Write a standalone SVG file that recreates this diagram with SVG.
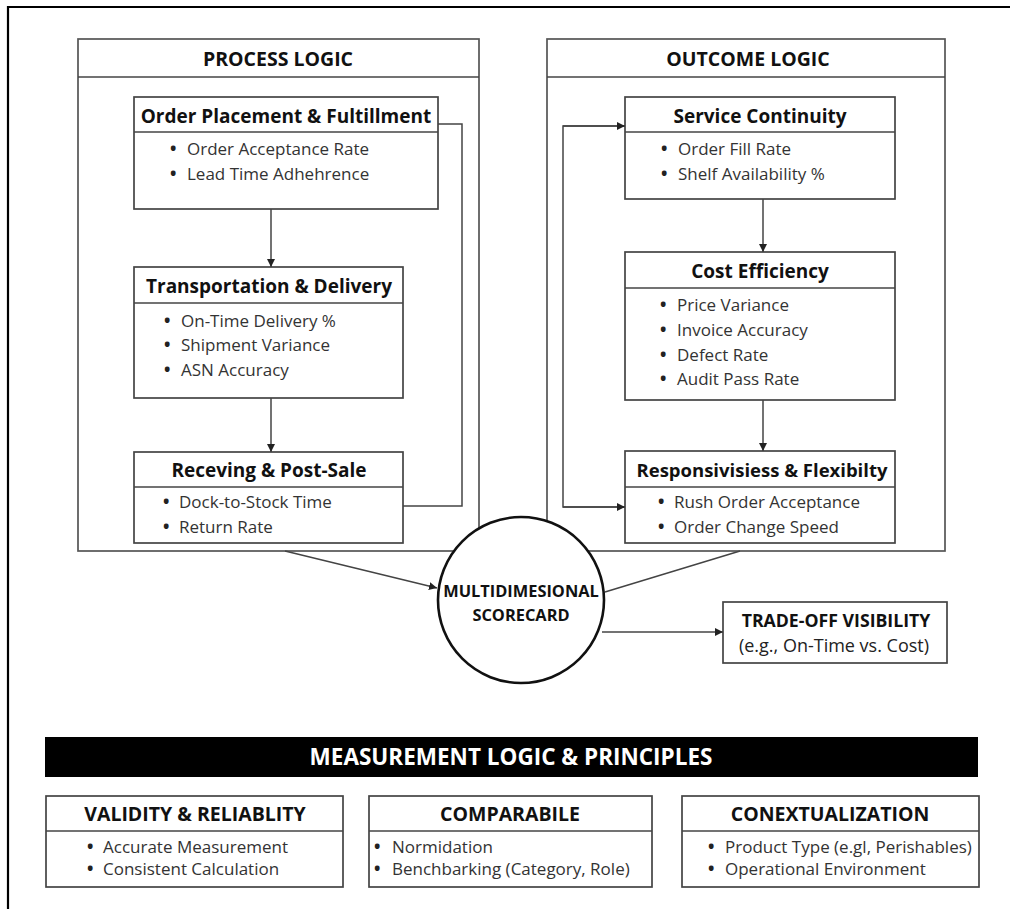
<svg xmlns="http://www.w3.org/2000/svg" width="1010" height="909" viewBox="0 0 1010 909">
  <style>
    .panel { fill: #fff; stroke: #555; stroke-width: 1.7; }
    .box { fill: #fff; stroke: #444; stroke-width: 1.7; }
    .div { stroke: #444; stroke-width: 1.7; }
    .hdr { font-family: "Open Sans", "Liberation Sans", sans-serif; font-weight: 700; font-size: 19.5px; fill: #111; text-anchor: middle; }
    .ttl { font-family: "Open Sans", "Liberation Sans", sans-serif; font-weight: 700; font-size: 19px; fill: #111; text-anchor: middle; }
    .sub { font-family: "Open Sans", "Liberation Sans", sans-serif; font-weight: 700; font-size: 19.5px; fill: #111; text-anchor: middle; }
    .itm { font-family: "Open Sans", "Liberation Sans", sans-serif; font-size: 17px; fill: #333; }
    .itm tspan:first-child { font-weight: 700; fill: #222; }
    .cap { font-family: "Open Sans", "Liberation Sans", sans-serif; font-weight: 700; font-size: 16.4px; fill: #111; text-anchor: middle; }
    .conn { fill: none; stroke: #444; stroke-width: 1.5; }
  </style>
  <defs>
    <marker id="arr" viewBox="0 0 10 10" refX="10" refY="5" markerWidth="8" markerHeight="8" markerUnits="userSpaceOnUse" orient="auto">
      <path d="M0,0 L10,5 L0,10 z" fill="#222"/>
    </marker>
  </defs>

  <rect width="1010" height="909" fill="#fff"/>
  <!-- outer frame (left and top edges) -->
  <path d="M8,909 V7 H1010" fill="none" stroke="#000" stroke-width="2.2"/>

  <!-- PROCESS LOGIC panel -->
  <g id="process-logic">
    <rect class="panel" x="78" y="39" width="401" height="512"/>
    <line class="div" x1="78" y1="77" x2="479" y2="77"/>
    <text class="hdr" x="278" y="66">PROCESS LOGIC</text>
  </g>

  <!-- OUTCOME LOGIC panel -->
  <g id="outcome-logic">
    <rect class="panel" x="547" y="39" width="398" height="512"/>
    <line class="div" x1="547" y1="77" x2="945" y2="77"/>
    <text class="hdr" x="748" y="66">OUTCOME LOGIC</text>
  </g>

  <g id="order-placement">
    <rect class="box" x="134" y="97" width="304" height="112"/>
    <line class="div" x1="134" y1="132" x2="438" y2="132"/>
    <text class="ttl" x="286" y="123">Order Placement &amp; Fultillment</text>
    <text class="itm" y="155"><tspan x="170">•</tspan><tspan x="187">Order Acceptance Rate</tspan></text>
    <text class="itm" y="180"><tspan x="170">•</tspan><tspan x="187">Lead Time Adhehrence</tspan></text>
  </g>

  <g id="transportation">
    <rect class="box" x="134" y="267" width="269" height="131"/>
    <line class="div" x1="134" y1="303" x2="403" y2="303"/>
    <text class="ttl" x="269" y="293">Transportation &amp; Delivery</text>
    <text class="itm" y="327"><tspan x="164">•</tspan><tspan x="181">On-Time Delivery %</tspan></text>
    <text class="itm" y="351"><tspan x="164">•</tspan><tspan x="181">Shipment Variance</tspan></text>
    <text class="itm" y="376"><tspan x="164">•</tspan><tspan x="181">ASN Accuracy</tspan></text>
  </g>

  <g id="receiving">
    <rect class="box" x="134" y="452" width="269" height="91"/>
    <line class="div" x1="134" y1="487" x2="403" y2="487"/>
    <text class="ttl" x="269" y="477">Receving &amp; Post-Sale</text>
    <text class="itm" y="508"><tspan x="163">•</tspan><tspan x="179">Dock-to-Stock Time</tspan></text>
    <text class="itm" y="533"><tspan x="163">•</tspan><tspan x="179">Return Rate</tspan></text>
  </g>

  <g id="service-continuity">
    <rect class="box" x="625" y="97" width="270" height="102"/>
    <line class="div" x1="625" y1="132" x2="895" y2="132"/>
    <text class="ttl" x="760" y="123">Service Continuity</text>
    <text class="itm" y="155"><tspan x="661">•</tspan><tspan x="678">Order Fill Rate</tspan></text>
    <text class="itm" y="180"><tspan x="661">•</tspan><tspan x="678">Shelf Availability %</tspan></text>
  </g>

  <g id="cost-efficiency">
    <rect class="box" x="625" y="252" width="270" height="148"/>
    <line class="div" x1="625" y1="288" x2="895" y2="288"/>
    <text class="ttl" x="760" y="278">Cost Efficiency</text>
    <text class="itm" y="311"><tspan x="660">•</tspan><tspan x="677">Price Variance</tspan></text>
    <text class="itm" y="336"><tspan x="660">•</tspan><tspan x="677">Invoice Accuracy</tspan></text>
    <text class="itm" y="361"><tspan x="660">•</tspan><tspan x="677">Defect Rate</tspan></text>
    <text class="itm" y="385"><tspan x="660">•</tspan><tspan x="677">Audit Pass Rate</tspan></text>
  </g>

  <g id="responsiveness">
    <rect class="box" x="625" y="451" width="270" height="92"/>
    <line class="div" x1="625" y1="487" x2="895" y2="487"/>
    <text class="ttl" x="762" y="477" style="font-size:18.5px">Responsivisiess &amp; Flexibilty</text>
    <text class="itm" y="508"><tspan x="658">•</tspan><tspan x="674">Rush Order Acceptance</tspan></text>
    <text class="itm" y="533"><tspan x="658">•</tspan><tspan x="674">Order Change Speed</tspan></text>
  </g>

  <g id="scorecard">
    <circle cx="521" cy="600" r="83" fill="#fff" stroke="#111" stroke-width="2.6"/>
    <text class="cap" x="521" y="597">MULTIDIMESIONAL</text>
    <text class="cap" x="521" y="621">SCORECARD</text>
  </g>

  <g id="trade-off">
    <rect class="box" x="723" y="602" width="224" height="61"/>
    <text class="cap" x="836" y="627" style="font-size:17.7px">TRADE-OFF VISIBILITY</text>
    <text class="itm" x="834" y="652" text-anchor="middle" style="fill:#222;font-size:18px">(e.g., On-Time vs. Cost)</text>
  </g>

  <g id="measurement-banner">
    <rect x="45" y="737" width="933" height="40" fill="#000"/>
    <text x="511" y="765" text-anchor="middle" style="font-family:'Open Sans','Liberation Sans',sans-serif;font-weight:700;font-size:22.5px;fill:#fff">MEASUREMENT LOGIC &amp; PRINCIPLES</text>
  </g>

  <g id="validity">
    <rect class="box" x="46" y="796" width="297" height="91"/>
    <line class="div" x1="46" y1="831" x2="343" y2="831"/>
    <text class="sub" x="195" y="821">VALIDITY &amp; RELIABLITY</text>
    <text class="itm" y="853"><tspan x="87">•</tspan><tspan x="103">Accurate Measurement</tspan></text>
    <text class="itm" y="875"><tspan x="87">•</tspan><tspan x="103">Consistent Calculation</tspan></text>
  </g>

  <g id="comparable">
    <rect class="box" x="369" y="796" width="283" height="91"/>
    <line class="div" x1="369" y1="831" x2="652" y2="831"/>
    <text class="sub" x="510" y="821">COMPARABILE</text>
    <text class="itm" y="853"><tspan x="374">•</tspan><tspan x="392">Normidation</tspan></text>
    <text class="itm" y="875"><tspan x="374">•</tspan><tspan x="392">Benchbarking (Category, Role)</tspan></text>
  </g>

  <g id="contextualization">
    <rect class="box" x="682" y="796" width="297" height="91"/>
    <line class="div" x1="682" y1="831" x2="979" y2="831"/>
    <text class="sub" x="830" y="821">CONEXTUALIZATION</text>
    <text class="itm" y="853"><tspan x="708">•</tspan><tspan x="725">Product Type (e.gl, Perishables)</tspan></text>
    <text class="itm" y="875"><tspan x="708">•</tspan><tspan x="725">Operational Environment</tspan></text>
  </g>

  <g id="connectors">
    <line class="conn" x1="271" y1="209" x2="271" y2="267" marker-end="url(#arr)"/>
    <line class="conn" x1="271" y1="398" x2="271" y2="452" marker-end="url(#arr)"/>
    <polyline class="conn" points="403,506 462,506 462,124 438,124"/>
    <line class="conn" x1="763" y1="199" x2="763" y2="252" marker-end="url(#arr)"/>
    <line class="conn" x1="763" y1="400" x2="763" y2="451" marker-end="url(#arr)"/>
    <polyline class="conn" points="625,126 563,126 563,507 625,507"/>
    <line class="conn" x1="563" y1="126" x2="625" y2="126" marker-end="url(#arr)"/>
    <line class="conn" x1="563" y1="507" x2="625" y2="507" marker-end="url(#arr)"/>
    <line class="conn" x1="285" y1="551" x2="437" y2="588" marker-end="url(#arr)"/>
    <line class="conn" x1="740" y1="551" x2="605" y2="592"/>
    <line class="conn" x1="602" y1="632" x2="723" y2="632" marker-end="url(#arr)"/>
  </g>
</svg>
